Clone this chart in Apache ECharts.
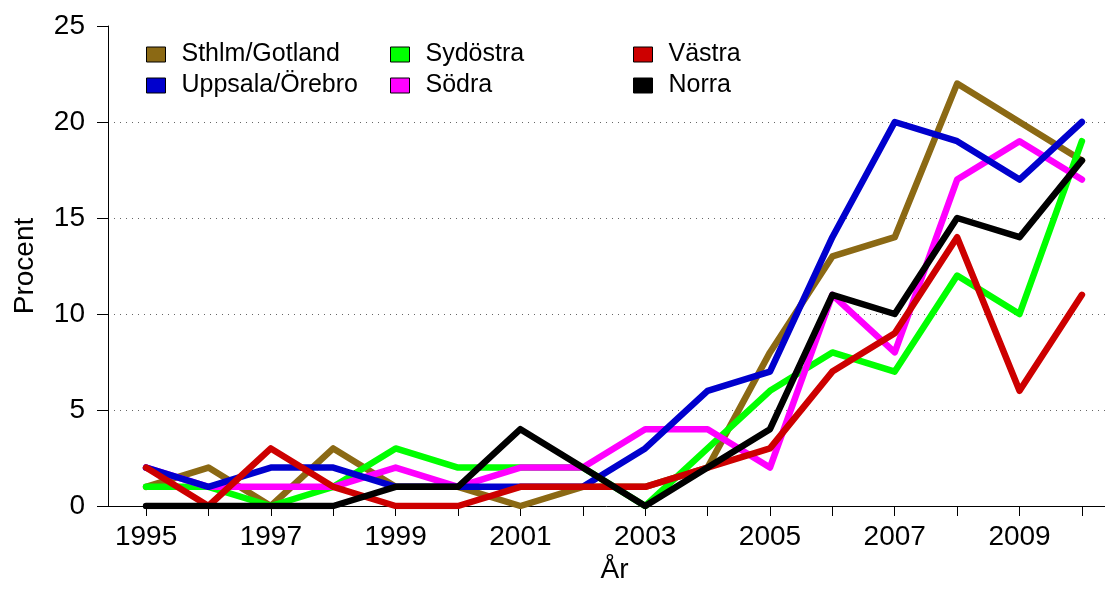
<!DOCTYPE html>
<html>
<head>
<meta charset="utf-8">
<script src="https://cdn.jsdelivr.net/npm/echarts@6/dist/echarts.min.js"></script>
<style>
	html, body { margin: 0; padding: 0; background: #fff; }
	#chart { width: 1105px; height: 594px; }
</style>
</head>
<body>
<div id="chart"></div>
<script>
const years = [1995, 1996, 1997, 1998, 1999, 2000, 2001, 2002, 2003, 2004, 2005, 2006, 2007, 2008, 2009, 2010]
const yearLabels = [1995, 1997, 1999, 2001, 2003, 2005, 2007, 2009]

const sthlmGotland = [1, 2, 0, 3, 1, 1, 0, 1, 1, 2, 8, 13, 14, 22, 20, 18]
const uppsalaOrebro = [2, 1, 2, 2, 1, 1, 1, 1, 3, 6, 7, 14, 20, 19, 17, 20]
const sydostra = [1, 1, 0, 1, 3, 2, 2, 2, 0, 3, 6, 8, 7, 12, 10, 19]
const sodra = [2, 1, 1, 1, 2, 1, 2, 2, 4, 4, 2, 11, 8, 17, 19, 17]
const vastra = [2, 0, 3, 1, 0, 0, 1, 1, 1, 2, 3, 7, 9, 14, 6, 11]
const norra = [0, 0, 0, 0, 1, 1, 4, 2, 0, 2, 4, 11, 10, 15, 14, 18]

const font = 'Liberation Sans, Arial, Helvetica, sans-serif'

// drawing order (later = on top)
const lines = [
	{ name: 'Sthlm/Gotland', data: sthlmGotland, color: '#8B6914' },
	{ name: 'Sydöstra', data: sydostra, color: '#00FF00' },
	{ name: 'Södra', data: sodra, color: '#FF00FF' },
	{ name: 'Uppsala/Örebro', data: uppsalaOrebro, color: '#0000CD' },
	{ name: 'Västra', data: vastra, color: '#CD0000' },
	{ name: 'Norra', data: norra, color: '#000000' },
]

function legendColumn(left, names) {
	return {
		data: names,
		left: left,
		top: 37,
		orient: 'vertical',
		icon: 'rect',
		itemWidth: 19,
		itemHeight: 15,
		itemGap: 6,
		itemStyle: { borderColor: '#000', borderWidth: 1 },
		textStyle: { fontFamily: font, fontSize: 25, color: '#000', padding: [0, 0, 0, 11] },
		selectedMode: false,
	}
}

const chart = echarts.init(document.getElementById('chart'), null, { renderer: 'canvas' })

chart.setOption({
	animation: false,
	backgroundColor: '#fff',
	grid: { left: 108, top: 26, right: 0, height: 480, containLabel: false },
	legend: [
		legendColumn(141, ['Sthlm/Gotland', 'Uppsala/Örebro']),
		legendColumn(385, ['Sydöstra', 'Södra']),
		legendColumn(628, ['Västra', 'Norra']),
	],
	xAxis: {
		type: 'value',
		min: 1994.39,
		max: 2010.37,
		name: 'År',
		nameLocation: 'middle',
		nameGap: 43,
		nameTextStyle: { fontFamily: font, fontSize: 28, color: '#000', padding: [0, 0, 0, 16] },
		axisLine: { show: true, lineStyle: { color: '#000', width: 1 } },
		axisTick: { show: true, length: 10, customValues: years, lineStyle: { color: '#000', width: 1 } },
		axisLabel: {
			customValues: yearLabels,
			formatter: v => String(v),
			fontFamily: font,
			fontSize: 28,
			color: '#000',
			margin: 17,
		},
		splitLine: { show: false },
	},
	yAxis: {
		type: 'value',
		min: 0,
		max: 25,
		interval: 5,
		name: 'Procent',
		nameLocation: 'middle',
		nameGap: 69,
		nameRotate: 90,
		nameTextStyle: { fontFamily: font, fontSize: 28, color: '#000' },
		axisLine: { show: true, lineStyle: { color: '#000', width: 1 } },
		axisTick: { show: true, length: 11, lineStyle: { color: '#000', width: 1 } },
		axisLabel: { fontFamily: font, fontSize: 28, color: '#000', margin: 23 },
		splitLine: {
			show: true,
			showMinLine: false,
			showMaxLine: false,
			lineStyle: { color: '#666', width: 1, type: [1, 5] },
		},
	},
	series: lines.map(s => ({
		name: s.name,
		type: 'line',
		data: years.map((y, i) => [y, s.data[i]]),
		symbol: 'none',
		color: s.color,
		lineStyle: { color: s.color, width: 6.5, cap: 'round', join: 'round' },
	})),
})
</script>
</body>
</html>
